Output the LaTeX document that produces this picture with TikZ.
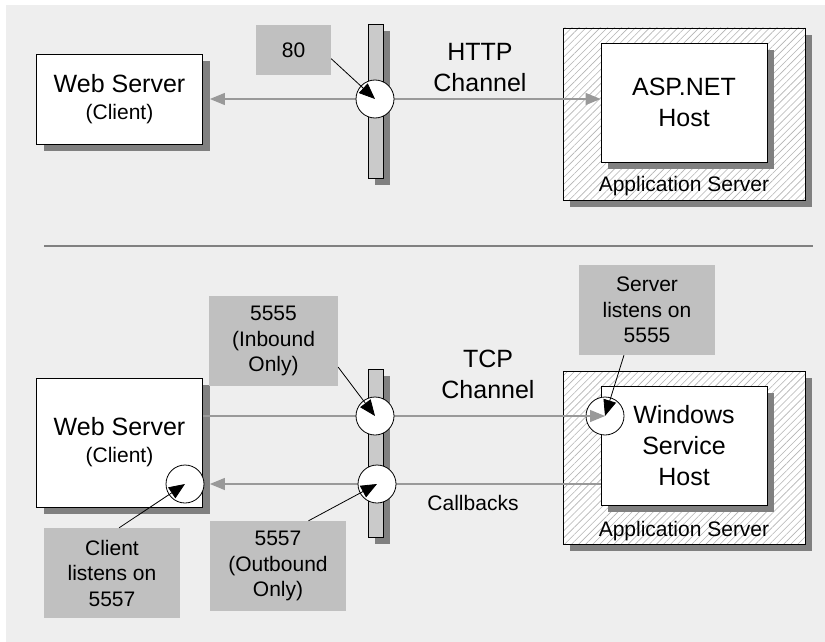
\documentclass[tikz,border=0pt]{standalone}
\usepackage{fontspec}
\setmainfont{Liberation Sans}
\usetikzlibrary{arrows.meta,positioning,calc,shadows,patterns.meta}
\definecolor{PageGray}{HTML}{EEEEEE}
\definecolor{ShadowGray}{HTML}{808080}
\definecolor{NoteGray}{HTML}{C0C0C0}
\definecolor{PillarGray}{HTML}{CACACA}
\definecolor{WireGray}{HTML}{999999}
\definecolor{HatchGray}{HTML}{B4B4B4}
\newcommand\bigsize{\fontsize{25}{31}\selectfont}
\newcommand\notesize{\fontsize{21}{25.5}\selectfont}
\tikzset{
  bigtxt/.style={font=\bigsize},
  smalltxt/.style={font=\notesize},
  hostbox/.style={draw, line width=0.8pt, fill=white, align=center, bigtxt,
    minimum width=166pt, minimum height=#1, inner sep=0pt,
    drop shadow={shadow xshift=7pt, shadow yshift=-7pt, fill=ShadowGray, opacity=1}},
  hostarea/.style={draw, line width=0.8pt, minimum width=242pt, minimum height=#1,
    drop shadow={shadow xshift=7pt, shadow yshift=-7pt, fill=ShadowGray, opacity=1},
    preaction={fill=white},
    pattern={Lines[angle=45,distance=5pt,line width=0.6pt]}, pattern color=HatchGray},
  pillar/.style={draw, line width=0.8pt, fill=PillarGray, minimum width=15pt,
    minimum height=#1, inner sep=0pt,
    drop shadow={shadow xshift=7pt, shadow yshift=-7pt, fill=ShadowGray, opacity=1}},
  portnote/.style={fill=NoteGray, smalltxt, align=center, inner sep=0pt,
    minimum width=136pt, minimum height=90pt},
  port/.style={circle, draw, line width=0.8pt, fill=white, minimum size=38pt, inner sep=0pt},
  wire/.style={draw=WireGray, line width=1.2pt,
    -{Triangle[length=15pt,width=12pt]}},
  pointer/.style={black, line width=0.8pt, -{Triangle[length=16pt,width=13pt]}},
}

\begin{document}
\begin{tikzpicture}[x=1pt,y=-1pt]
  \useasboundingbox (0,0) rectangle (825,642);
  \fill[PageGray] (6,5) rectangle (825,642);

  % HTTP channel
  \node[hostbox=90pt] (web1) at (119.5,99) {Web Server\\[-4pt]{\notesize (Client)}};
  \node[hostarea=172pt] (apps1) at (684,114) {};
  \node[hostbox=119pt] (asp) at (684,102.5) {ASP.NET\\Host};
  \node[smalltxt, anchor=base] (appname1) at ([yshift=9pt]apps1.south) {Application Server};
  \node[pillar=154pt] (wall1) at (375.5,101) {};
  \node[portnote, minimum width=75pt, minimum height=50pt] (note80) at (293.5,50) {80};
  \node[bigtxt, align=center] (http) at (480,68) {HTTP\\Channel};

  \draw[wire] (375,99) -- ([xshift=7pt]web1.east |- 375,99);
  \draw[wire] (375,99) -- (asp.west |- 375,99);
  \node[port] (port80) at (375,99) {};
  \draw[pointer] (note80.-13) -- (port80.center);

  \draw[ShadowGray, line width=2pt] (44,246) -- (813,246);

  % TCP channel
  \node[hostbox=129pt] (web2) at (119.5,442.5) {Web Server\\[-4pt]{\notesize (Client)}};
  \node[hostarea=173pt] (apps2) at (684,457.5) {};
  \node[hostbox=119pt] (wsh) at (684,445.5) {Windows\\Service\\Host};
  \node[smalltxt, anchor=base] (appname2) at ([yshift=8pt]apps2.south) {Application Server};
  \node[pillar=168pt] (wall2) at (375.5,453) {};
  \node[port] (portsrv) at (605,416) {};
  \node[bigtxt, align=center] (tcp) at (488,374) {TCP\\Channel};
  \node[smalltxt] (callbacks) at (473,503) {Callbacks};

  \draw[wire] (web2.east |- portsrv) -- (portsrv.center);
  \draw[wire] (wsh.west |- 0,484) -- ([xshift=7pt]web2.east |- 0,484);
  \node[port] (portin) at (375,416) {};
  \node[port] (portout) at (377,484) {};
  \node[port] (portcli) at (185,484) {};

  \node[portnote, minimum width=129pt] (notein) at (273.5,341) {5555\\(Inbound\\Only)};
  \node[portnote] (noteout) at (278,566) {5557\\(Outbound\\Only)};
  \node[portnote] (notecli) at (112,573) {Client\\listens on\\5557};
  \node[portnote] (notesrv) at (647,310) {Server\\listens on\\5555};

  \draw[pointer] (notein.-22) -- (portin.center);
  \draw[pointer] (noteout.56) -- (portout.center);
  \draw[pointer] (notecli.81) -- (portcli.center);
  \draw[pointer] (notesrv.-117) -- (portsrv.center);
\end{tikzpicture}
\end{document}
